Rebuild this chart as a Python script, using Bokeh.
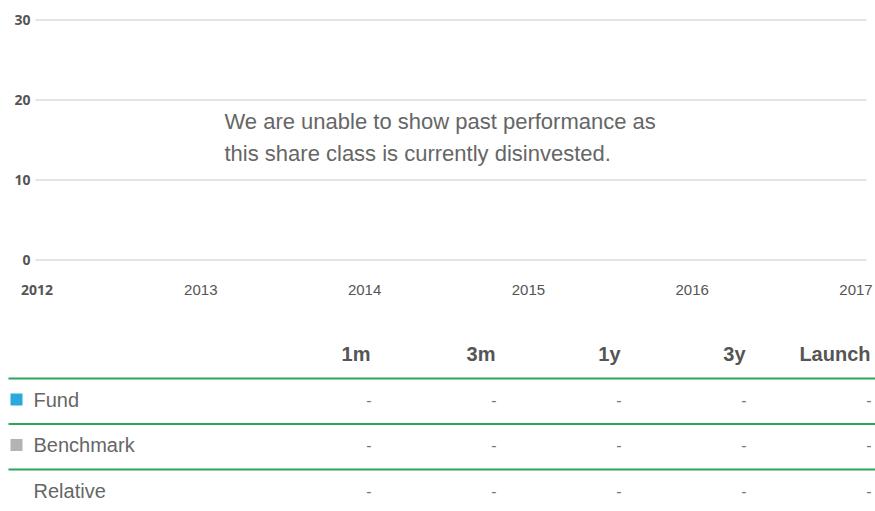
from bokeh.plotting import figure
from bokeh.layouts import column
from bokeh.models import Range1d
from bokeh.core.properties import value
from bokeh.embed import file_html
from bokeh.resources import INLINE

# ---- data ----
years = [2012, 2013, 2014, 2015, 2016, 2017]
y_ticks = [0, 10, 20, 30]
message = ["We are unable to show past performance as",
           "this share class is currently disinvested."]
periods = ["1m", "3m", "1y", "3y", "Launch"]
row_names = ["Fund", "Benchmark", "Relative"]
row_colors = ["#2aa9dc", "#b3b3b3", None]
fund_values = ["-", "-", "-", "-", "-"]
bench_values = ["-", "-", "-", "-", "-"]
rel_values = ["-", "-", "-", "-", "-"]
row_values = [fund_values, bench_values, rel_values]

W = 875
H1 = 312
H2 = 199
LABEL_FONT = "Liberation Sans"
TICK_FONT = "Open Sans"

# ---- layout constants (pixels on the page) ----
PX_PER_YEAR = 163.8
PX_PER_UNIT = 8.0
X0_PX, Y0_PX = 36.5, 259.5          # where (2012, 0) sits
GRID_L_PX, GRID_R_PX = 35, 866


def xdata(px):
    return years[0] + (px - X0_PX) / PX_PER_YEAR


def ydata(py):
    return (Y0_PX - py) / PX_PER_UNIT


# ---- chart ----
p = figure(width=W, height=H1, output_backend="svg", toolbar_location=None,
           x_range=Range1d(xdata(0), xdata(W)), y_range=Range1d(ydata(H1), ydata(0)),
           x_axis_location=None, y_axis_location=None, min_border=0)
p.outline_line_color = None
p.grid.visible = False
p.background_fill_color = None

gx0, gx1 = xdata(GRID_L_PX), xdata(GRID_R_PX)
p.segment(x0=[gx0] * len(y_ticks), x1=[gx1] * len(y_ticks), y0=y_ticks, y1=y_ticks,
          line_color="#c8c8c8", line_width=1)

p.text(x=[xdata(GRID_L_PX - 5)] * len(y_ticks), y=y_ticks, text=[str(v) for v in y_ticks],
       text_align="right", text_baseline="middle", text_font=value(TICK_FONT),
       text_font_style="bold", text_font_size="14px", text_color="#555555")

ylab = ydata(289.5)
p.text(x=years[:1], y=[ylab], text=[str(years[0])], text_align="center",
       text_baseline="middle", text_font=value(TICK_FONT), text_font_style="bold",
       text_font_size="14px", text_color="#555555")
p.text(x=years[1:], y=[ylab] * (len(years) - 1), text=[str(v) for v in years[1:]],
       text_align="center", text_baseline="middle", text_font=value(LABEL_FONT),
       text_font_size="15px", text_color="#555555")

p.text(x=[xdata(224)] * len(message), y=[ydata(121), ydata(153)], text=message,
       text_align="left", text_baseline="middle", text_font=value(LABEL_FONT),
       text_font_size="22px", text_color="#666666")

# ---- table (page pixel coordinates) ----
TOP = H1
t = figure(width=W, height=H2, output_backend="svg", toolbar_location=None,
           x_range=Range1d(0, W), y_range=Range1d(TOP + H2, TOP),
           x_axis_location=None, y_axis_location=None, min_border=0)
t.outline_line_color = None
t.grid.visible = False

col_right0, col_step = 370, 125
header_y = 353
row_y0, row_step = 399, 45.5
line_y0 = 378

col_x = [col_right0 + i * col_step for i in range(len(periods))]
t.text(x=col_x, y=[header_y] * len(periods), text=periods, text_align="right",
       text_baseline="middle", text_font=value(LABEL_FONT), text_font_style="bold",
       text_font_size="20px", text_color="#555555")

ly = [line_y0 + r * row_step for r in range(len(row_names))]
t.segment(x0=[8] * len(ly), x1=[W] * len(ly), y0=ly, y1=ly,
          line_color="#2ba560", line_width=2)

ry = [row_y0 + r * row_step for r in range(len(row_names))]
t.text(x=[33] * len(row_names), y=ry, text=row_names, text_align="left",
       text_baseline="middle", text_font=value(LABEL_FONT),
       text_font_size="20px", text_color="#666666")

sq = [(y, c) for y, c in zip(ry, row_colors) if c]
t.scatter(x=[16] * len(sq), y=[s[0] for s in sq], marker="square", size=12,
          fill_color=[s[1] for s in sq], line_color=None)

vx, vy, vt = [], [], []
for r, vals in enumerate(row_values):
    for c, v in enumerate(vals):
        vx.append(col_x[c] + 1)
        vy.append(ry[r])
        vt.append(v)
t.text(x=vx, y=vy, text=vt, text_align="right", text_baseline="middle",
       text_font=value(LABEL_FONT), text_font_size="16px", text_color="#777777")

layout = column(p, t)
open("out.html", "w").write(file_html(layout, INLINE))
